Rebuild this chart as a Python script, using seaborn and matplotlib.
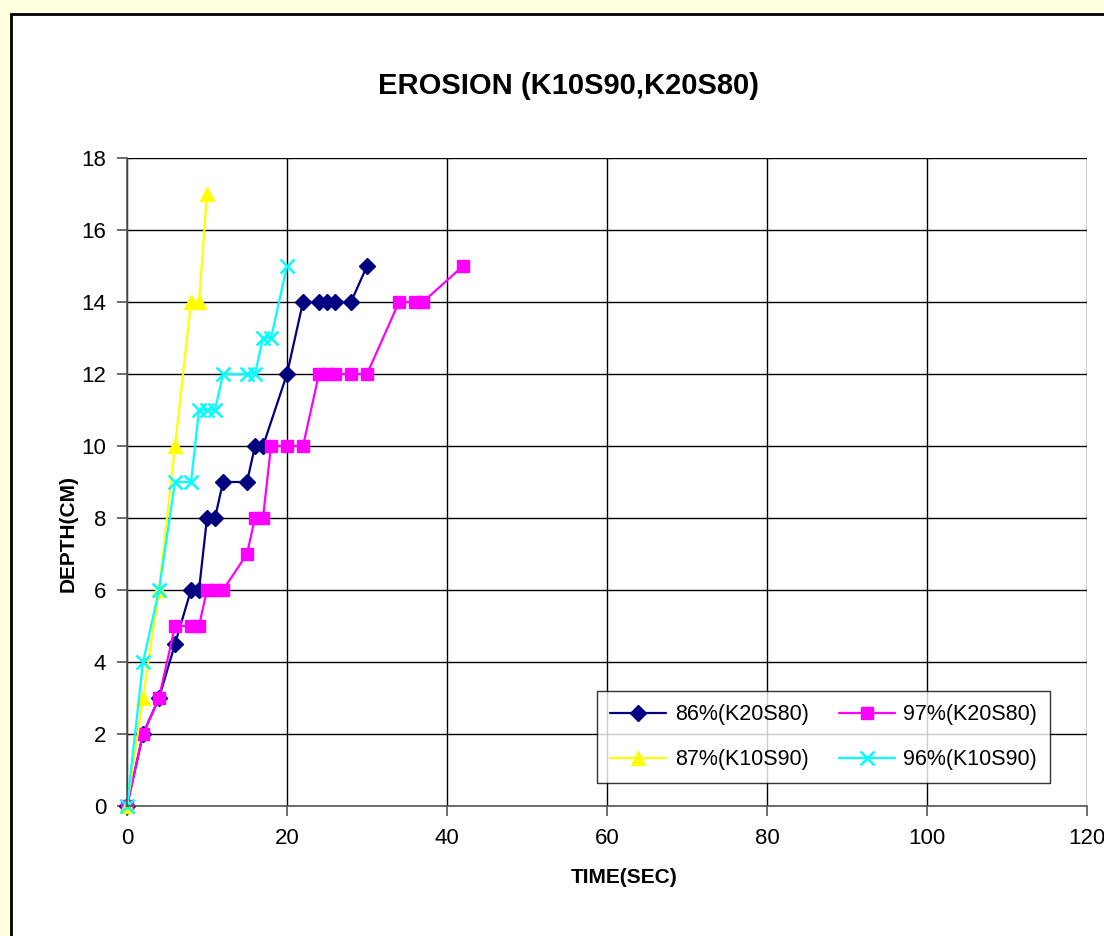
import pandas as pd
import matplotlib
matplotlib.use("Agg")
import matplotlib.pyplot as plt
import seaborn as sns
from matplotlib.patches import Rectangle

time_86 = [0, 2, 4, 6, 8, 9, 10, 11, 12, 15, 16, 17, 20, 22, 24, 25, 26, 28, 30]
depth_86 = [0, 2, 3, 4.5, 6, 6, 8, 8, 9, 9, 10, 10, 12, 14, 14, 14, 14, 14, 15]

time_97 = [0, 2, 4, 6, 8, 9, 10, 11, 12, 15, 16, 17, 18, 20, 22, 24, 25, 26, 28, 30, 34, 36, 37, 42]
depth_97 = [0, 2, 3, 5, 5, 5, 6, 6, 6, 7, 8, 8, 10, 10, 10, 12, 12, 12, 12, 12, 14, 14, 14, 15]

time_87 = [0, 2, 4, 6, 8, 9, 10]
depth_87 = [0, 3, 6, 10, 14, 14, 17]

time_96 = [0, 2, 4, 6, 8, 9, 10, 11, 12, 15, 16, 17, 18, 20]
depth_96 = [0, 4, 6, 9, 9, 11, 11, 11, 12, 12, 12, 13, 13, 15]

labels = ['86%(K20S80)', '97%(K20S80)', '87%(K10S90)', '96%(K10S90)']
x_ticks = list(range(0, 121, 20))
y_ticks = list(range(0, 19, 2))

sns.set_theme(style='white')
plt.rcParams['font.family'] = ['Liberation Sans', 'DejaVu Sans']
plt.rcParams['text.color'] = 'black'
plt.rcParams['axes.labelcolor'] = 'black'
plt.rcParams['xtick.color'] = 'black'
plt.rcParams['ytick.color'] = 'black'

fig = plt.figure(figsize=(11.04, 9.36), dpi=100)
fig.patch.set_facecolor('#FFFFE0')
# 차트 영역 (흰 배경 + 검은 테두리)
fig.patches.append(Rectangle((11 / 1104, -0.05), 1.1, 1 - 14 / 936 + 0.05,
                             transform=fig.transFigure, facecolor='white',
                             edgecolor='black', linewidth=2, zorder=-10))

ax = fig.add_axes([127 / 1104, 1 - 806 / 936, 960 / 1104, 648 / 936])
ax.set_facecolor('white')

series = [
    (time_86, depth_86, labels[0], '#000080', 'D', 8, 1.0),
    (time_97, depth_97, labels[1], '#FF00FF', 's', 8, 1.0),
    (time_87, depth_87, labels[2], '#FFFF00', '^', 10, 1.0),
    (time_96, depth_96, labels[3], '#00FFFF', 'x', 10, 1.8),
]
handles = {}
for xs, ys, lab, col, mk, ms, mew in series:
    df = pd.DataFrame({'time': xs, 'depth': ys})
    sns.lineplot(data=df, x='time', y='depth', ax=ax, color=col, marker=mk,
                 markersize=ms, markeredgewidth=mew, markeredgecolor=col,
                 linewidth=1.6, sort=False, estimator=None, label=lab, clip_on=False)
    handles[lab] = ax.lines[-1]

ax.set_xlim(0, 120)
ax.set_ylim(0, 18)
ax.set_xticks(x_ticks)
ax.set_yticks(y_ticks)
ax.grid(True, color='black', linewidth=1.0)
ax.set_axisbelow(True)
for side in ['top', 'right']:
    ax.spines[side].set_visible(False)
for side in ['left', 'bottom']:
    ax.spines[side].set_color('#555555')
    ax.spines[side].set_linewidth(1.2)
ax.tick_params(axis='both', which='major', direction='out', length=7, width=1.2,
               color='#555555', labelcolor='black', labelsize=16, left=True, bottom=True)
ax.tick_params(axis='y', pad=8)
ax.tick_params(axis='x', pad=9)

ax.set_xlabel('TIME(SEC)', fontsize=15, fontweight='bold', color='black')
ax.set_ylabel('DEPTH(CM)', fontsize=15, fontweight='bold', color='black')
ax.xaxis.set_label_coords(0.518, -0.095)
ax.yaxis.set_label_coords(-0.051, 0.42)

fig.text(0.515, 1 - 86 / 936, 'EROSION (K10S90,K20S80)', ha='center', va='center',
         fontsize=21, fontweight='bold', color='black')

order = [labels[0], labels[2], labels[1], labels[3]]
leg = ax.legend([handles[k] for k in order], order, ncol=2, loc='lower left',
                bbox_to_anchor=(0.49, 0.0355), borderaxespad=0, fontsize=15.5,
                frameon=True, fancybox=False, edgecolor='black', handlelength=2.6,
                labelspacing=1.1, columnspacing=1.4, handletextpad=0.4,
                borderpad=0.6)
leg.get_frame().set_linewidth(1.0)
for t in leg.get_texts():
    t.set_color('black')

fig.savefig('out.png', dpi=100, facecolor=fig.get_facecolor())
